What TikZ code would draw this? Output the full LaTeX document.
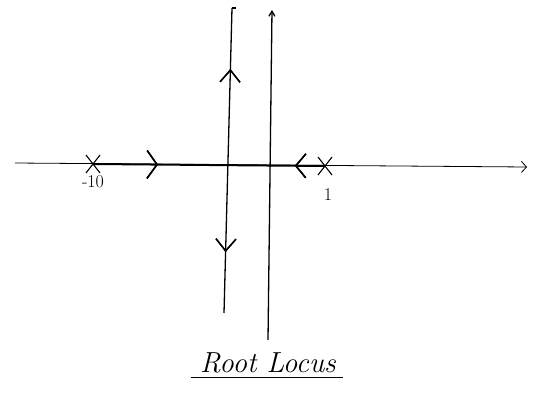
\documentclass[tikz,border=0pt]{standalone}
\usepackage{fontspec}
\usepackage{tikz}
\usetikzlibrary{arrows.meta,positioning,decorations.markings,shapes.misc}

\begin{document}
\begin{tikzpicture}[
  x=1pt, y=-1pt,
  pole/.style={cross out, draw, line width=1.1pt, minimum width=13pt, minimum height=17pt, inner sep=0pt},
  axisline/.style={line width=0.8pt, -{Straight Barb[length=5pt,width=11pt]}},
  locus/.style={line width=2pt},
  branch/.style={line width=1.3pt},
  hchev/.style={postaction={decorate}, decoration={markings,
    mark=at position #1 with {\arrow{Straight Barb[length=10pt,width=28pt,line width=1.5pt]}}}},
  rhchev/.style={postaction={decorate}, decoration={markings,
    mark=at position #1 with {\arrowreversed{Straight Barb[length=10pt,width=24pt,line width=1.5pt]}}}},
  vchev/.style={postaction={decorate}, decoration={markings,
    mark=at position #1 with {\arrow{Straight Barb[length=12pt,width=20pt,line width=1.4pt]}}}},
  rvchev/.style={postaction={decorate}, decoration={markings,
    mark=at position #1 with {\arrowreversed{Straight Barb[length=12pt,width=20pt,line width=1.4pt]}}}},
  lbl/.style={font=\fontsize{18}{20}\selectfont, inner sep=1pt}
]
\useasboundingbox (0,0) rectangle (539,399);
% real axis
\coordinate (west) at (15,163);
\coordinate (east) at (527,167);
\draw[axisline] (west) -- (east);
% open-loop poles
\node[pole] (p10) at (93,164) {};
\node[pole] (p1) at (325,166) {};
\node[lbl, below=1pt of p10] (l10) {-10};
\node[lbl, below=12pt of p1, xshift=3pt] (l1) {1};
% locus on real axis
\draw[locus, hchev=0.28, rhchev=0.87] (p10.center) -- (p1.center);
% vertical branches
\coordinate (aTop) at (232,8);
\coordinate (aBot) at (224,313);
\draw[branch, rvchev=0.2, vchev=0.8] (aTop) -- (aBot);
\draw[branch] (aTop) -- ++(4,0);
\coordinate (bBot) at (268,340);
\coordinate (bTop) at (272,10);
\draw[branch, -{Straight Barb[length=5pt,width=6pt]}] (bBot) -- (bTop);
% title
\node[font=\fontsize{29}{32}\selectfont\itshape] (title) at (268,363) {Root Locus};
\draw[line width=1.2pt] ([xshift=-6pt,yshift=-1pt]title.south west) -- ([xshift=4pt,yshift=-1pt]title.south east);
\end{tikzpicture}
\end{document}
